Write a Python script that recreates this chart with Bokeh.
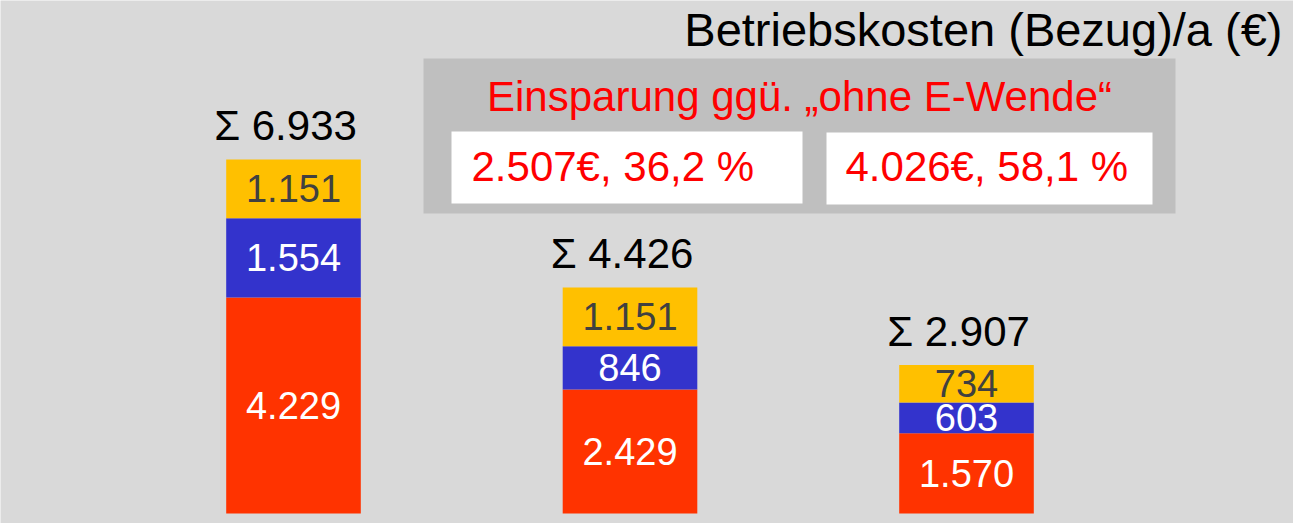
from bokeh.plotting import figure
from bokeh.models import Range1d, ColumnDataSource
from bokeh.core.properties import value
from bokeh.embed import file_html
from bokeh.resources import INLINE

# ---- data ----
categories = ["Szenario 1", "Szenario 2", "Szenario 3"]
seg_bottom = [4229, 2429, 1570]   # red
seg_middle = [1554, 846, 603]     # blue
seg_top = [1151, 1151, 734]       # orange
totals = [6933, 4426, 2907]
title_text = "Betriebskosten (Bezug)/a (€)"
box_title = "Einsparung ggü. „ohne E-Wende“"
savings = ["2.507€, 36,2 %", "4.026€, 58,1 %"]

FONT = "Liberation Sans"
RED, BLUE, ORANGE = "#ff3300", "#3333cc", "#ffc000"


def de(v):
    return f"{v:,}".replace(",", ".")


W, H = 1293, 523
p = figure(width=W, height=H, output_backend="svg", toolbar_location=None,
           x_range=Range1d(0.12927, 3.97177), y_range=Range1d(-195.85, 10047.0),
           min_border=0)
p.xaxis.visible = False
p.yaxis.visible = False
p.grid.visible = False
p.outline_line_color = None
p.background_fill_color = "#d9d9d9"
p.border_fill_color = "#d9d9d9"

# pixel-space ranges for layout annotations (y from top)
p.extra_x_ranges["px"] = Range1d(0, W)
p.extra_y_ranges["px"] = Range1d(H, 0)

xs = list(range(1, len(categories) + 1))
b0 = [0] * len(xs)
b1 = [a for a in seg_bottom]
b2 = [a + b for a, b in zip(seg_bottom, seg_middle)]
t2 = [a + b + c for a, b, c in zip(seg_bottom, seg_middle, seg_top)]

src = ColumnDataSource(dict(
    x=xs, b0=b0, b1=b1, b2=b2, t2=t2,
    lab_bot=[de(v) for v in seg_bottom],
    lab_mid=[de(v) for v in seg_middle],
    lab_top=[de(v) for v in seg_top],
    y_bot=[b + v / 2 for b, v in zip(b0, seg_bottom)],
    y_mid=[b + v / 2 for b, v in zip(b1, seg_middle)],
    y_top=[b + v / 2 for b, v in zip(b2, seg_top)],
    tot=totals,
    lab_tot=["Σ " + de(v) for v in totals],
))

p.vbar(x="x", bottom="b0", top="b1", width=0.4, fill_color=RED, line_color=None, source=src)
p.vbar(x="x", bottom="b1", top="b2", width=0.4, fill_color=BLUE, line_color=None, source=src)
p.vbar(x="x", bottom="b2", top="t2", width=0.4, fill_color=ORANGE, line_color=None, source=src)

common = dict(text_font=value(FONT), text_align="center", text_baseline="middle",
              text_font_size="38px", source=src)
p.text(x="x", y="y_bot", text="lab_bot", text_color="white", **common)
p.text(x="x", y="y_mid", text="lab_mid", text_color="white", **common)
p.text(x="x", y="y_top", text="lab_top", text_color="#404040", **common)

p.text(x="x", y="tot", text="lab_tot", text_color="black", text_font=value(FONT),
       text_font_size="42px", text_align="center", text_baseline="middle",
       x_offset=-8, y_offset=-34, source=src)

# title
p.text(x=[1282], y=[29], text=[title_text], text_font=value(FONT), text_font_size="47px",
       text_align="right", text_baseline="middle", text_color="black",
       x_range_name="px", y_range_name="px")

# savings box
p.quad(left=[423], right=[1175], top=[58], bottom=[213], fill_color="#bfbfbf",
       line_color=None, x_range_name="px", y_range_name="px")
p.quad(left=[451, 826], right=[802, 1152], top=[131, 132], bottom=[203, 204],
       fill_color="white", line_color=None, x_range_name="px", y_range_name="px")
p.text(x=[799], y=[96], text=[box_title], text_font=value(FONT), text_font_size="42px",
       text_align="center", text_baseline="middle", text_color="#ff0000",
       x_range_name="px", y_range_name="px")
p.text(x=[471, 845], y=[166, 166], text=savings, text_font=value(FONT), text_font_size="42px",
       text_align="left", text_baseline="middle", text_color="#ff0000",
       x_range_name="px", y_range_name="px")

open("out.html", "w").write(file_html(p, INLINE))
